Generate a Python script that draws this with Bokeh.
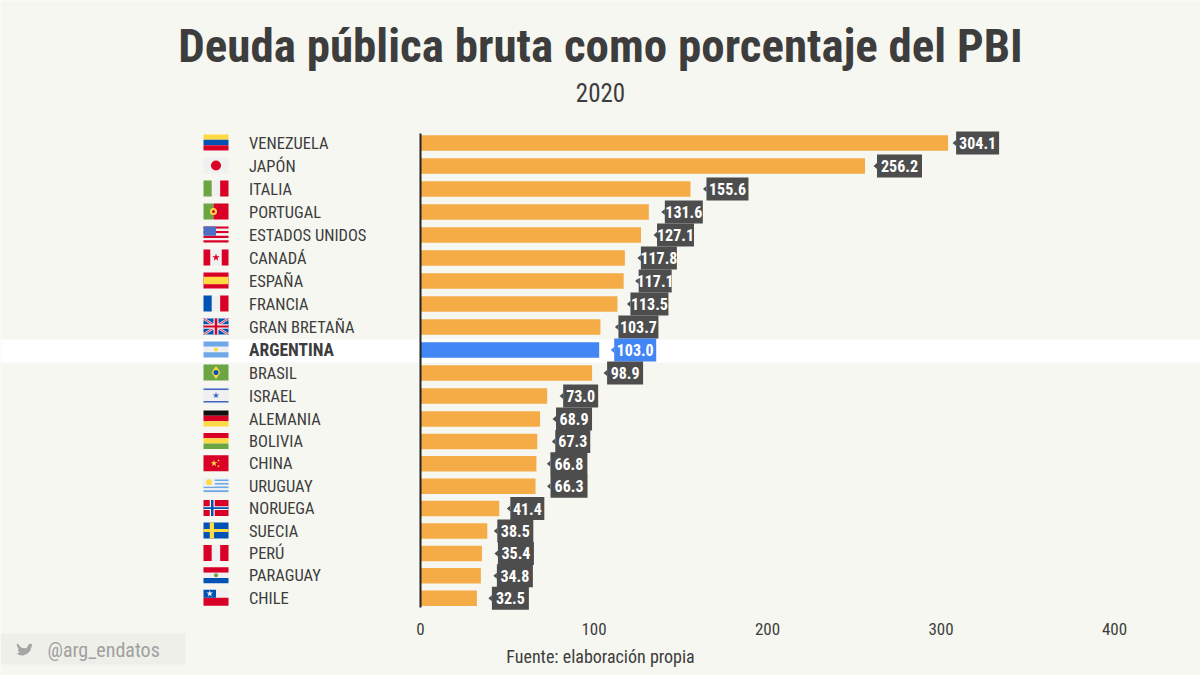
from bokeh.plotting import figure
from bokeh.models import Range1d, LinearAxis, FixedTicker, Label, ColumnDataSource
from bokeh.core.properties import value
from bokeh.embed import file_html
from bokeh.resources import INLINE
import numpy as np

# ---------- data ----------
countries = ["VENEZUELA", "JAPÓN", "ITALIA", "PORTUGAL", "ESTADOS UNIDOS", "CANADÁ", "ESPAÑA",
             "FRANCIA", "GRAN BRETAÑA", "ARGENTINA", "BRASIL", "ISRAEL", "ALEMANIA", "BOLIVIA",
             "CHINA", "URUGUAY", "NORUEGA", "SUECIA", "PERÚ", "PARAGUAY", "CHILE"]
# the printed values
debt = [304.1, 256.2, 155.6, 131.6, 127.1, 117.8, 117.1, 113.5, 103.7, 103.0, 98.9, 73.0, 68.9,
        67.3, 66.8, 66.3, 41.4, 38.5, 35.4, 34.8, 32.5]
# the bar lengths as drawn (the reference's NORUEGA bar runs past its printed 41.4)
bar_lengths = [304.1, 256.2, 155.6, 131.6, 127.1, 117.8, 117.1, 113.5, 103.7, 103.0, 98.9, 73.0, 68.9,
               67.3, 66.8, 66.3, 45.4, 38.5, 35.4, 34.8, 32.5]
x_ticks = [0, 100, 200, 300, 400]
title_text = "Deuda pública bruta como porcentaje del PBI"
subtitle_text = "2020"
source_text = "Fuente: elaboración propia"
handle_text = "@arg_endatos"
highlight = "ARGENTINA"

# ---------- layout (separate from the data) ----------
FONT = "Roboto Condensed"
BG, INK, BAR, BLUE, BOX = "#f6f7f0", "#3d3d3d", "#f5ac47", "#4285f4", "#4d4d4d"
W, H = 1200, 675
PX_PER_UNIT = 1.735
ZERO_PX = 420
row_steps = [142.5] + [23.0] * 12 + [22.4] * 8
label_gap = [8, 12, 16, 16, 16, 16, 15, 13, 18, 15, 15, 16, 16, 18, 14, 15, 18, 10, 16, 16, 15]
label_width = [43, 45, 42, 38, 37, 36, 33, 38, 40, 42, 36, 35, 36, 35, 37, 37, 34, 36, 36, 36, 37]

rows = np.cumsum(row_steps)
vals = np.array(debt)
gap = np.array(label_gap) / PX_PER_UNIT
wid = np.array(label_width) / PX_PER_UNIT
colors = [BLUE if c == highlight else BAR for c in countries]
box_colors = [BLUE if c == highlight else BOX for c in countries]


def px(x_pixel):
    """page pixel -> value on the x scale, for decorations that are not data"""
    return (x_pixel - ZERO_PX) / PX_PER_UNIT


x_range = Range1d(px(0), px(W))
y_range = Range1d(H, 0)
p = figure(width=W, height=H, x_range=x_range, y_range=y_range, output_backend="svg",
           toolbar_location=None, min_border=0, background_fill_color=BG, border_fill_color=BG,
           outline_line_color=None, x_axis_type=None, y_axis_type=None)
p.grid.visible = False

# highlighted row band and handle plate
p.quad(left=[px(0)], right=[px(W)], top=[339], bottom=[362], color="#ffffff", line_color=None)
p.quad(left=[px(0)], right=[px(185)], top=[633], bottom=[664], color="#eeefe9", line_color=None)

# bars
src = ColumnDataSource(dict(name=countries, value=bar_lengths, y=rows, color=colors, box=box_colors,
                            left=vals + gap, right=vals + gap + wid, mid=vals + gap + wid / 2,
                            top=rows - 11.5, bottom=rows + 11.5,
                            label=[f"{v:.1f}" for v in debt],
                            size=["17.5px" if c == highlight else "16.5px" for c in countries],
                            style=["bold" if c == highlight else "normal" for c in countries]))
p.hbar(y="y", left=0, right="value", height=15.5, color="color", line_color=None, source=src)
p.segment(x0=[0], x1=[0], y0=[133], y1=[607], line_color="#222222", line_width=2)

# value labels
p.quad(left="left", right="right", top="top", bottom="bottom", color="box",
       line_color=None, source=src)
tips_x = [[l, l, l - 3.5 / PX_PER_UNIT] for l in vals + gap]
tips_y = [[r - 3, r + 3, r] for r in rows]
p.patches(tips_x, tips_y, color=box_colors, line_color=None)
p.text(x="mid", y="y", text="label", text_color="#ffffff", text_font=value(FONT), text_font_style="bold",
       text_font_size="16px", text_align="center", text_baseline="middle", source=src)

# country names
p.text(x=0, y="y", text="name", x_offset=-171.5, text_color=INK, text_font=value(FONT),
       text_font_style="style", text_font_size="size", text_align="left",
       text_baseline="middle", source=src)

# ---------- flags, in unit coordinates (u across, v down) ----------
FL, FW, FH = 203, 25, 16
quads = dict(l=[], r=[], t=[], b=[], c=[])
marks = dict(x=[], y=[], c=[], s=[], m=[])


def rect(i, u0, v0, u1, v1, c):
    top = rows[i] - 0.5 - FH / 2
    quads["l"].append(px(FL + u0 * FW))
    quads["r"].append(px(FL + u1 * FW))
    quads["t"].append(top + v0 * FH)
    quads["b"].append(top + v1 * FH)
    quads["c"].append(c)


def mark(i, u, v, c, s, m="circle"):
    top = rows[i] - 0.5 - FH / 2
    marks["x"].append(px(FL + u * FW))
    marks["y"].append(top + v * FH)
    marks["c"].append(c)
    marks["s"].append(s)
    marks["m"].append(m)


def hstripes(i, cs):
    for k, c in enumerate(cs):
        rect(i, 0, k / len(cs), 1, (k + 1) / len(cs), c)


def vstripes(i, cs):
    for k, c in enumerate(cs):
        rect(i, k / len(cs), 0, (k + 1) / len(cs), 1, c)


RED, WHT, NAVY = "#d80027", "#f0f0f0", "#0052b4"
hstripes(0, ["#ffda44", "#0052b4", "#d80027"])
rect(1, 0, 0, 1, 1, WHT); mark(1, .5, .5, RED, 10)
vstripes(2, ["#6da544", WHT, RED])
rect(3, 0, 0, .4, 1, "#6da544"); rect(3, .4, 0, 1, 1, RED); mark(3, .4, .5, "#ffda44", 7); mark(3, .4, .5, RED, 3)
hstripes(4, [RED if k % 2 == 0 else WHT for k in range(7)]); rect(4, 0, 0, .5, 4 / 7, "#4a6fc4")
rect(5, 0, 0, 1, 1, WHT); rect(5, 0, 0, .27, 1, RED); rect(5, .73, 0, 1, 1, RED); mark(5, .5, .5, RED, 8, "star")
rect(6, 0, 0, 1, 1, RED); rect(6, 0, .27, 1, .73, "#ffda44")
vstripes(7, [NAVY, WHT, RED])
rect(8, 0, 0, 1, 1, NAVY)
hstripes(9, ["#6da9e8", WHT, "#6da9e8"]); mark(9, .5, .5, "#ffda44", 4)
rect(10, 0, 0, 1, 1, "#6da544"); mark(10, .5, .5, "#ffda44", 13, "diamond"); mark(10, .5, .5, NAVY, 5)
rect(11, 0, 0, 1, 1, WHT); rect(11, 0, .06, 1, .16, "#3f63c4"); rect(11, 0, .84, 1, .94, "#3f63c4"); mark(11, .5, .5, "#3f63c4", 7, "star")
hstripes(12, ["#111111", RED, "#ffda44"])
hstripes(13, [RED, "#ffda44", "#6da544"])
rect(14, 0, 0, 1, 1, RED); mark(14, .42, .5, "#ffda44", 7, "star"); mark(14, .6, .32, "#ffda44", 3, "star"); mark(14, .6, .68, "#ffda44", 3, "star")
hstripes(15, [WHT, "#6da9e8", WHT, "#6da9e8", WHT, "#6da9e8", WHT, "#6da9e8", WHT]); rect(15, 0, 0, .45, 5 / 9, WHT); mark(15, .22, .28, "#ffda44", 6)
rect(16, 0, 0, 1, 1, RED); rect(16, .25, 0, .45, 1, WHT); rect(16, 0, .38, 1, .62, WHT); rect(16, .3, 0, .4, 1, NAVY); rect(16, 0, .44, 1, .56, NAVY)
rect(17, 0, 0, 1, 1, NAVY); rect(17, .25, 0, .42, 1, "#ffda44"); rect(17, 0, .4, 1, .6, "#ffda44")
vstripes(18, [RED, WHT, RED])
hstripes(19, [RED, WHT, NAVY]); mark(19, .5, .5, "#6da544", 4)
rect(20, 0, 0, 1, .5, WHT); rect(20, 0, .5, 1, 1, RED); rect(20, 0, 0, .5, .5, NAVY); mark(20, .25, .25, WHT, 7, "star")

p.quad(left="l", right="r", top="t", bottom="b", color="c", line_color=None, source=ColumnDataSource(quads))
# Union Jack: diagonals over the blue field, then the cross
top8 = rows[8] - 0.5 - FH / 2
p.segment(x0=[px(FL), px(FL)], x1=[px(FL + FW), px(FL + FW)], y0=[top8, top8 + FH], y1=[top8 + FH, top8],
          line_color=WHT, line_width=2.5)
p.segment(x0=[px(FL), px(FL)], x1=[px(FL + FW), px(FL + FW)], y0=[top8, top8 + FH], y1=[top8 + FH, top8],
          line_color=RED, line_width=0.9)
p.quad(left=[px(FL + .4 * FW), px(FL)], right=[px(FL + .6 * FW), px(FL + FW)],
       top=[top8, top8 + .36 * FH], bottom=[top8 + FH, top8 + .64 * FH], color=WHT, line_color=None)
p.quad(left=[px(FL + .45 * FW), px(FL)], right=[px(FL + .55 * FW), px(FL + FW)],
       top=[top8, top8 + .43 * FH], bottom=[top8 + FH, top8 + .57 * FH], color=RED, line_color=None)
p.scatter(x="x", y="y", marker="m", size="s", color="c", line_color=None, source=ColumnDataSource(marks))

# twitter bird
bird_u = [0, .1, .22, .22, .36, .62, .78, .92, 1, .93, .98, .9, .88, .7, .42, .2, 0, .18, .08, .14, .04]
bird_v = [.15, .1, .3, .3, .42, .45, .12, .1, .2, .3, .3, .42, .6, .85, 1, .98, .85, .78, .55, .52, .3]
p.patch([px(16 + 16 * u) for u in bird_u], [642 + 13 * v for v in bird_v], color="#a6a6a6", line_color=None)

# axis
axis = LinearAxis(ticker=FixedTicker(ticks=x_ticks), fixed_location=614)
axis.axis_line_color = None
axis.major_tick_line_color = None
axis.minor_tick_line_color = None
axis.major_label_standoff = 2
axis.major_label_text_color = INK
axis.major_label_text_font = FONT
axis.major_label_text_font_size = "17px"
p.add_layout(axis, "below")


def text(x, y, s, size, color=INK, style="normal", align="center"):
    p.add_layout(Label(x=x, y=H - y, x_units="screen", y_units="screen", text=s,
                       text_font=FONT, text_font_size=size, text_color=color, text_font_style=style,
                       text_align=align, text_baseline="middle"))


text(600, 45, title_text, "47px", style="bold")
text(600, 92, subtitle_text, "25px")
text(600, 656, source_text, "18px")
text(47, 649, handle_text, "20px", color="#a0a0a0", align="left")

open("out.html", "w").write(file_html(p, INLINE))
